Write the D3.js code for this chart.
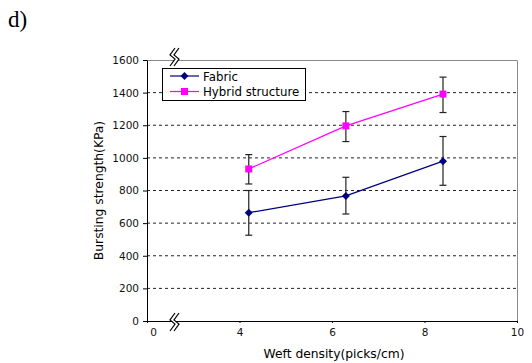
<!DOCTYPE html>
<html>
<head>
<meta charset="utf-8">
<script src="https://cdn.jsdelivr.net/npm/d3@7"></script>
<style>
  body { margin: 0; background: #fff; }
  text { font-family: "DejaVu Sans", sans-serif; }
</style>
</head>
<body>
<svg id="chart" width="532" height="363"></svg>
<script>
// weft density (picks/cm)
const xValues = [4.2, 6.3, 8.4];
const fabricMean = [664, 767, 980];
const fabricLow = [526, 656, 832];
const fabricHigh = [800, 881, 1131];
const hybridMean = [932, 1196, 1391];
const hybridLow = [840, 1100, 1278];
const hybridHigh = [1020, 1284, 1495];
const yTicks = [0, 200, 400, 600, 800, 1000, 1200, 1400, 1600];
// first tick sits at the axis break, shown as "0"
const xTicks = [2, 4, 6, 8, 10];
const xTickLabels = ["0", "4", "6", "8", "10"];

const LEFT = 147, RIGHT = 517, TOP = 60, BOTTOM = 321;

const svg = d3.select("#chart");

const x = d3.scaleLinear().domain([2, 10]).range([LEFT, RIGHT]);
const y = d3.scaleLinear().domain([0, 1600]).range([BOTTOM, TOP]);

svg.append("text")
    .attr("x", 8).attr("y", 27)
    .style("font-family", "'Liberation Serif', serif")
    .style("font-size", "23px")
    .text("d)");

// dashed grid
svg.append("g").selectAll("line")
    .data(yTicks.filter(d => d > 0 && d < 1600))
    .enter().append("line")
    .attr("x1", LEFT).attr("x2", RIGHT)
    .attr("y1", d => y(d)).attr("y2", d => y(d))
    .attr("stroke", "#222")
    .attr("stroke-width", 1)
    .attr("stroke-dasharray", "3,3");

// top and right frame
svg.append("path")
    .attr("d", `M${LEFT},${TOP + 0.5}H${RIGHT + 0.5}V${BOTTOM}`)
    .attr("fill", "none")
    .attr("stroke", "#8a8a8a")
    .attr("stroke-width", 1);

// y axis
const yAxis = svg.append("g")
    .attr("transform", `translate(${LEFT},0)`)
    .call(d3.axisLeft(y).tickValues(yTicks).tickSize(4).tickSizeOuter(0).tickFormat(d3.format("d")));
yAxis.select(".domain").attr("stroke", "#000");
yAxis.selectAll("text").style("font-size", "10.5px").attr("fill", "#111").attr("x", -8);

// x axis
const xAxis = svg.append("g")
    .attr("transform", `translate(0,${BOTTOM})`)
    .call(d3.axisBottom(x).tickValues(xTicks).tickSize(2).tickSizeOuter(0)
        .tickFormat((d, i) => xTickLabels[i]));
xAxis.select(".domain").attr("stroke", "#000");
xAxis.selectAll("text").style("font-size", "10.5px").attr("fill", "#111").attr("y", 8);
xAxis.selectAll(".tick").filter(d => d === 2).select("text").attr("x", 6);

// axis titles
svg.append("text")
    .attr("transform", `translate(103,${(TOP + BOTTOM) / 2}) rotate(-90)`)
    .attr("text-anchor", "middle")
    .style("font-size", "12.3px")
    .text("Bursting strength(KPa)");

svg.append("text")
    .attr("x", 334).attr("y", 358)
    .attr("text-anchor", "middle")
    .style("font-size", "12.3px")
    .text("Weft density(picks/cm)");

// axis break marks
function breakMark(cx, cy) {
    const g = svg.append("g").attr("transform", `translate(${cx},${cy})`);
    const zig = "M3,-10 L-2,-3 L3,1 L-2,8";
    g.append("path")
        .attr("d", "M3,-10 L-2,-3 L3,1 L-2,8 L2,8 L7,1 L2,-3 L7,-10 Z")
        .attr("fill", "#fff");
    g.append("path").attr("d", zig).attr("fill", "none").attr("stroke", "#000").attr("stroke-width", 1.2);
    g.append("path").attr("d", zig).attr("transform", "translate(4,0)")
        .attr("fill", "none").attr("stroke", "#000").attr("stroke-width", 1.2);
}
breakMark(172, TOP - 2);
breakMark(172, BOTTOM + 2);

const series = [
    {name: "Fabric", mean: fabricMean, low: fabricLow, high: fabricHigh, color: "#000080", shape: "diamond"},
    {name: "Hybrid structure", mean: hybridMean, low: hybridLow, high: hybridHigh, color: "#ff00ff", shape: "square"}
];

const line = d3.line().x(d => x(d[0])).y(d => y(d[1]));

function marker(g, shape, color, px, py) {
    if (shape === "square") {
        g.append("rect")
            .attr("x", px - 3.5).attr("y", py - 3.5)
            .attr("width", 7).attr("height", 7)
            .attr("fill", color);
    } else {
        g.append("path")
            .attr("d", `M${px},${py - 4}L${px + 4},${py}L${px},${py + 4}L${px - 4},${py}Z`)
            .attr("fill", color);
    }
}

series.forEach(s => {
    const g = svg.append("g");
    // error bars
    xValues.forEach((xv, i) => {
        const px = x(xv);
        g.append("line")
            .attr("x1", px).attr("x2", px)
            .attr("y1", y(s.low[i])).attr("y2", y(s.high[i]))
            .attr("stroke", "#222").attr("stroke-width", 1.2);
        [s.low[i], s.high[i]].forEach(v => {
            g.append("line")
                .attr("x1", px - 3.5).attr("x2", px + 3.5)
                .attr("y1", y(v)).attr("y2", y(v))
                .attr("stroke", "#222").attr("stroke-width", 1.2);
        });
    });
    g.append("path")
        .datum(xValues.map((xv, i) => [xv, s.mean[i]]))
        .attr("d", line)
        .attr("fill", "none")
        .attr("stroke", s.color)
        .attr("stroke-width", 1.2);
    xValues.forEach((xv, i) => marker(g, s.shape, s.color, x(xv), y(s.mean[i])));
});

// legend
const legend = svg.append("g");
legend.append("rect")
    .attr("x", 162.5).attr("y", 68.5)
    .attr("width", 143).attr("height", 32)
    .attr("fill", "#fff").attr("stroke", "#000").attr("stroke-width", 1);
series.forEach((s, i) => {
    const ly = 76 + i * 15.5;
    legend.append("line")
        .attr("x1", 170).attr("x2", 199)
        .attr("y1", ly).attr("y2", ly)
        .attr("stroke", s.color).attr("stroke-width", 1.2);
    marker(legend, s.shape, s.color, 184.5, ly);
    legend.append("text")
        .attr("x", 203).attr("y", ly + 4.5)
        .style("font-size", "11.8px")
        .text(s.name);
});
</script>
</body>
</html>
